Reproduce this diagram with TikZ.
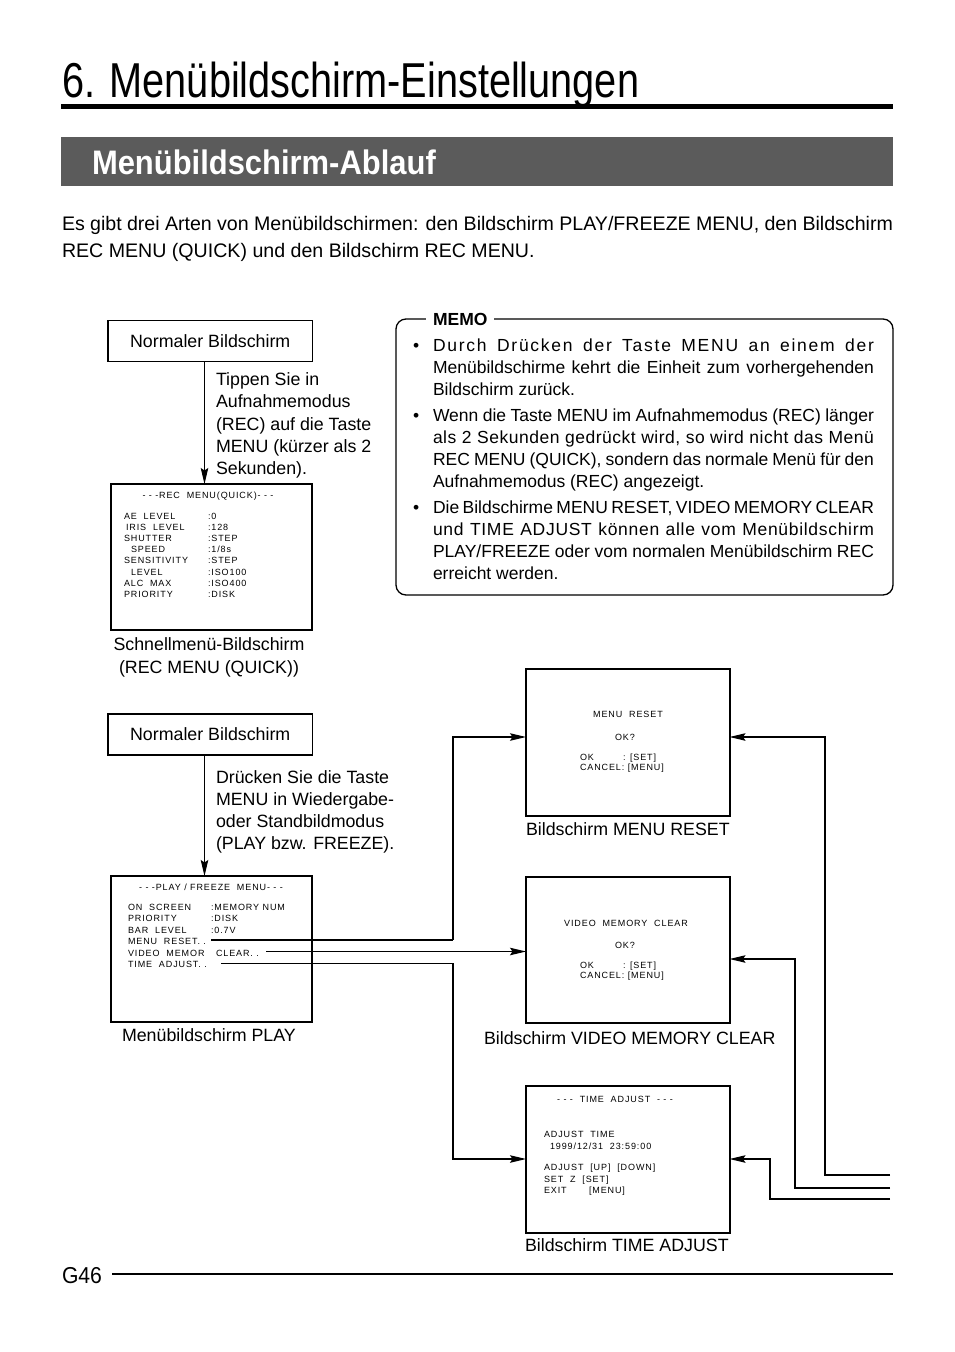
\documentclass[tikz,border=0pt]{standalone}
\usepackage{graphicx}
\usepackage{fontspec}
\setmainfont{Liberation Sans}
\newfontfamily\scrfont[LetterSpace=10]{Liberation Sans}
\usetikzlibrary{arrows.meta}
\definecolor{band}{HTML}{5B5B5B}
\newcommand\jl[1]{\makebox[441pt][s]{#1}}
\newcommand\lsp[2]{{\addfontfeature{LetterSpace=#1}#2}}
\begin{document}
\begin{tikzpicture}[x=1pt,y=-1pt,
  every node/.style={inner sep=0pt, outer sep=0pt},
  txt/.style={anchor=base west, font=\fontsize{17.8}{22}\selectfont},
  ctxt/.style={anchor=base, font=\fontsize{17.8}{22}\selectfont},
  mtxt/.style={anchor=base west, font=\fontsize{17.5}{22}\selectfont},
  st/.style={anchor=base west, font=\scrfont\fontsize{9}{10}\selectfont},
  cst/.style={anchor=base, font=\scrfont\fontsize{9}{10}\selectfont},
  plainbox/.style={draw, line width=1.3pt, anchor=north west, font=\fontsize{17.8}{22}\selectfont},
  screen/.style={draw, line width=2pt, anchor=north west},
  conn/.style={line width=1.2pt},
  arr/.style={conn, -{Stealth[length=16pt,width=7.5pt,inset=2.5pt]}}]

\useasboundingbox[fill=white] (0,0) rectangle (954,1352);

% ---------- header ----------
\node[anchor=base west, font=\fontsize{49}{55}\selectfont] (title) at (62,97)
  {\scalebox{0.81}[1]{6. Menübildschirm-Einstellungen}};
\draw[line width=5pt] (61,106.5) -- (893,106.5);
\node[fill=band, anchor=north west, minimum width=832pt, minimum height=49pt] (band) at (61,137) {};
\node[anchor=base west, text=white, font=\bfseries\fontsize{34}{40}\selectfont] (sect) at (92,174)
  {\scalebox{0.91}[1]{Menübildschirm-Ablauf}};

\node[anchor=base west, font=\fontsize{19.6}{27}\selectfont] (intro1) at (62,230)
  {\makebox[831pt][s]{Es gibt drei Arten von Menübildschirmen: den Bildschirm PLAY/FREEZE MENU, den Bildschirm}};
\node[anchor=base west, font=\fontsize{19.6}{27}\selectfont] (intro2) at (62,257)
  {REC MENU (QUICK) und den Bildschirm REC MENU.};

% ---------- memo ----------
\node[draw, line width=1.3pt, rounded corners=10pt, anchor=north west,
      minimum width=497pt, minimum height=276pt] (memo) at (396,319) {};
\node[anchor=base west, fill=white, inner xsep=7pt, font=\bfseries\fontsize{17.5}{20}\selectfont] (memolbl) at (426,325) {MEMO};

\node[mtxt] (b1) at (413,351.5) {•};
\node[mtxt] (m1) at (433,351.5) {\jl{\lsp{10}{Durch Drücken der Taste MENU an einem der}}};
\node[mtxt] (m2) at (433,373.5) {\jl{Menübildschirme kehrt die Einheit zum vorhergehenden}};
\node[mtxt] (m3) at (433,395.5) {Bildschirm zurück.};
\node[mtxt] (b2) at (413,421.5) {•};
\node[mtxt] (m4) at (433,421.5) {\jl{Wenn die Taste MENU im Aufnahmemodus (REC) länger}};
\node[mtxt] (m5) at (433,443.5) {\jl{\lsp{3}{als 2 Sekunden gedrückt wird, so wird nicht das Menü}}};
\node[mtxt] (m6) at (433,465.5) {\jl{REC MENU (QUICK), sondern das normale Menü für den}};
\node[mtxt] (m7) at (433,487.5) {Aufnahmemodus (REC) angezeigt.};
\node[mtxt] (b3) at (413,513.5) {•};
\node[mtxt] (m8) at (433,513.5) {\jl{Die Bildschirme MENU RESET, VIDEO MEMORY CLEAR}};
\node[mtxt] (m9) at (433,535.5) {\jl{\lsp{4}{und TIME ADJUST können alle vom Menübildschirm}}};
\node[mtxt] (m10) at (433,557.5) {\jl{PLAY/FREEZE oder vom normalen Menübildschirm REC}};
\node[mtxt] (m11) at (433,579.5) {erreicht werden.};

% ---------- REC quick ----------
\node[plainbox, minimum width=204.5pt, minimum height=41pt] (n1) at (108,320.5) {Normaler Bildschirm};
\node[screen, minimum width=201.5pt, minimum height=146pt] (rq) at (110.5,484) {};
\coordinate (a1) at (204.5,0);
\draw[arr] (n1.south -| a1) -- (rq.north -| a1);
\node[txt] (t1) at (216,385.5) {Tippen Sie in};
\node[txt] (t2) at (216,407.8) {Aufnahmemodus};
\node[txt] (t3) at (216,430.1) {(REC) auf die Taste};
\node[txt] (t4) at (216,452.4) {MENU (kürzer als 2};
\node[txt] (t5) at (216,474.7) {Sekunden).};

\node[cst] (rqt) at (208,498) {- - -REC\ \ MENU(QUICK)- - -};
\node[st] (q1) at (124,519.5) {AE\ \ LEVEL};      \node[st] (q1v) at (208,519.5) {:0};
\node[st] (q2) at (126,530.5) {IRIS\ \ LEVEL};    \node[st] (q2v) at (208,530.5) {:128};
\node[st] (q3) at (124,541.5) {SHUTTER};         \node[st] (q3v) at (208,541.5) {:STEP};
\node[st] (q4) at (131,552.5) {SPEED};           \node[st] (q4v) at (208,552.5) {:1/8s};
\node[st] (q5) at (124,563.5) {SENSITIVITY};     \node[st] (q5v) at (208,563.5) {:STEP};
\node[st] (q6) at (131,575) {LEVEL};             \node[st] (q6v) at (208,575) {:ISO100};
\node[st] (q7) at (124,586.5) {ALC\ \ MAX};       \node[st] (q7v) at (208,586.5) {:ISO400};
\node[st] (q8) at (124,597.5) {PRIORITY};        \node[st] (q8v) at (208,597.5) {:DISK};

\node[ctxt] (c1) at (209,650.5) {Schnellmenü-Bildschirm};
\node[ctxt] (c2) at (209,673) {(REC MENU (QUICK))};

% ---------- PLAY ----------
\node[plainbox, minimum width=204.5pt, minimum height=41pt] (n2) at (108,714) {Normaler Bildschirm};
\node[screen, minimum width=201.5pt, minimum height=146pt] (play) at (110.5,876) {};
\draw[arr] (n2.south -| a1) -- (play.north -| a1);
\node[txt] (u1) at (216,783) {Drücken Sie die Taste};
\node[txt] (u2) at (216,805.3) {MENU in Wiedergabe-};
\node[txt] (u3) at (216,827.6) {oder Standbildmodus};
\node[txt] (u4) at (216,849.9) {(PLAY bzw. FREEZE).};

\node[cst] (pt) at (211,890) {- - -PLAY / FREEZE\ \ MENU- - -};
\node[st] (p1) at (128,910) {ON\ \ SCREEN};      \node[st] (p1v) at (211,910) {:MEMORY NUM};
\node[st] (p2) at (128,921.5) {PRIORITY};        \node[st] (p2v) at (211,921.5) {:DISK};
\node[st] (p3) at (128,933) {BAR\ \ LEVEL};       \node[st] (p3v) at (211,933) {:0.7V};
\node[st] (p4) at (128,944.5) {MENU\ \ RESET. .};
\node[st] (p5) at (128,956) {VIDEO\ \ MEMOR};     \node[st] (p5v) at (216,956) {CLEAR. .};
\node[st] (p6) at (128,967.5) {TIME\ \ ADJUST. .};
\node[txt] (c3) at (122,1041) {Menübildschirm PLAY};

% ---------- right screens ----------
\node[screen, minimum width=203.5pt, minimum height=146.5pt] (mrs) at (526,669) {};
\node[cst] (mr1) at (628,717) {MENU\ \ RESET};
\node[cst] (mr2) at (625,740) {OK?};
\node[st] (mr3) at (580,760) {OK};  \node[st] (mr3v) at (623,760) {: [SET]};
\node[st] (mr4) at (580,770) {CANCEL: [MENU]};
\node[txt] (c4) at (526,835) {Bildschirm MENU RESET};

\node[screen, minimum width=203.5pt, minimum height=146pt] (vmc) at (526,877) {};
\node[cst] (vm1) at (626,926) {VIDEO\ \ MEMORY\ \ CLEAR};
\node[cst] (vm2) at (625,948.5) {OK?};
\node[st] (vm3) at (580,968.5) {OK};  \node[st] (vm3v) at (623,968.5) {: [SET]};
\node[st] (vm4) at (580,978.5) {CANCEL: [MENU]};
\node[txt] (c5) at (484,1044) {Bildschirm VIDEO MEMORY CLEAR};

\node[screen, minimum width=203.5pt, minimum height=147pt] (tas) at (526,1086) {};
\node[cst] (ta1) at (615,1102) {- - -\ \ TIME\ \ ADJUST\ \ - - -};
\node[st] (ta2) at (544,1137) {ADJUST\ \ TIME};
\node[st] (ta3) at (550,1149) {1999/12/31\ \ 23:59:00};
\node[st] (ta4) at (544,1170.5) {ADJUST\ \ [UP]\ \ [DOWN]};
\node[st] (ta5) at (544,1182) {SET\ \ Z\ \ [SET]};
\node[st] (ta6) at (544,1193.5) {EXIT};  \node[st] (ta6v) at (589,1193.5) {[MENU]};
\node[txt] (c6) at (525,1251) {Bildschirm TIME ADJUST};

% ---------- connectors ----------
\coordinate (mr0) at (211,940);
\coordinate (mrj) at (453,940);
\coordinate (yMR) at (0,737);
\draw[line width=2pt] (mr0) -- (mrj);
\draw[arr] (mrj) |- (mrs.west |- yMR);

\coordinate (vm0) at (266,951.5);
\draw[arr] (vm0) -- (vmc.west |- vm0);

\coordinate (ta0) at (221,963.5);
\coordinate (taj) at (453,963.5);
\coordinate (yTA) at (0,1159);
\draw[arr] (ta0) -- (taj) |- (tas.west |- yTA);

\coordinate (e1) at (890,1175);
\coordinate (x1) at (825,0);
\draw[arr] (e1) -| (x1 |- yMR) -- (mrs.east |- yMR);
\coordinate (e2) at (890,1188);
\coordinate (x2) at (795,0);
\coordinate (yVM) at (0,959);
\draw[arr] (e2) -| (x2 |- yVM) -- (vmc.east |- yVM);
\coordinate (e3) at (890,1199);
\coordinate (x3) at (770,0);
\draw[arr] (e3) -| (x3 |- yTA) -- (tas.east |- yTA);

% ---------- footer ----------
\node[anchor=base west, font=\fontsize{23}{26}\selectfont] (page) at (62,1283) {\scalebox{0.92}[1]{G46}};
\draw[line width=2pt] (112,1274) -- (893,1274);
\end{tikzpicture}
\end{document}
